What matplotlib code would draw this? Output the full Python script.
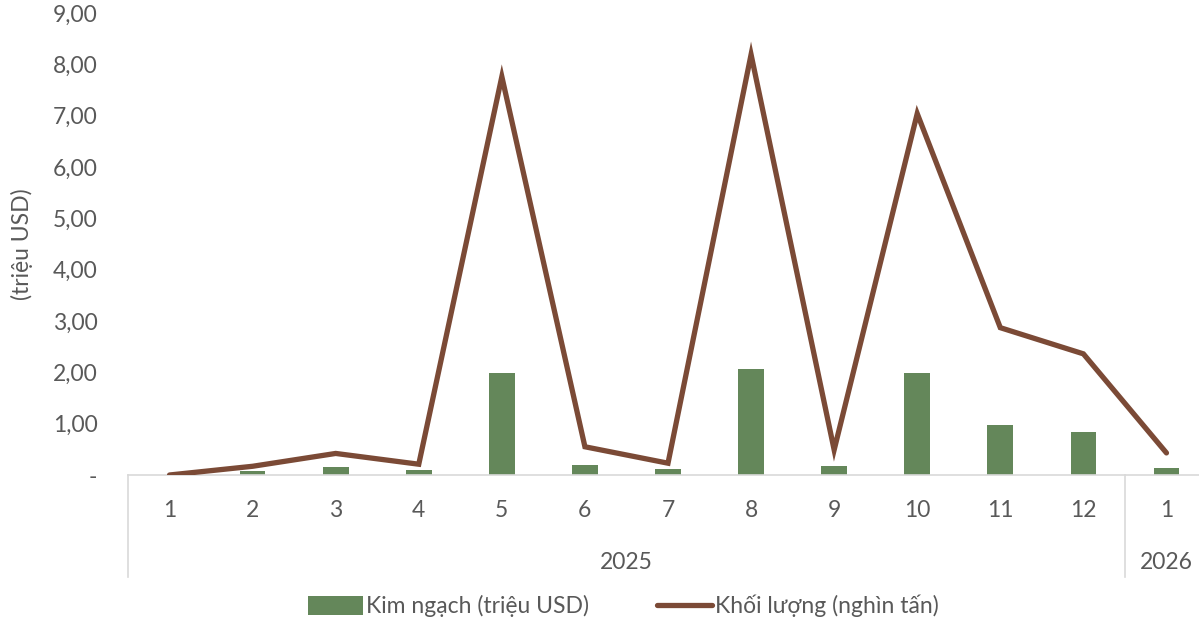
import matplotlib
matplotlib.use("Agg")
import matplotlib.pyplot as plt
import matplotlib.transforms as mtransforms
from matplotlib.ticker import FuncFormatter

plt.rcParams['font.family'] = ['Lato', 'DejaVu Sans']

months = ["1", "2", "3", "4", "5", "6", "7", "8", "9", "10", "11", "12", "1"]
years = ["2025", "2026"]
year_counts = [12, 1]
kim_ngach = [0.0, 0.07, 0.16, 0.09, 1.99, 0.19, 0.12, 2.07, 0.18, 1.99, 0.97, 0.83, 0.14]
khoi_luong = [0.0, 0.17, 0.42, 0.21, 7.76, 0.55, 0.23, 8.19, 0.49, 7.04, 2.87, 2.36, 0.43]

GREEN = "#64875a"
BROWN = "#7b4a36"
TXT = "#595959"
GRID = "#d9d9d9"
FS = 16.5

fig = plt.figure(figsize=(11.99, 6.21), dpi=100)
ax = fig.add_axes([128 / 1199, (621 - 475) / 621, 1080 / 1199, 462 / 621])

x = list(range(len(months)))
bars = ax.bar(x, kim_ngach, width=0.31, color=GREEN, label="Kim ngạch (triệu USD)", zorder=2)
line, = ax.plot(x, khoi_luong, color=BROWN, lw=3.8, solid_joinstyle="miter",
                solid_capstyle="round", label="Khối lượng (nghìn tấn)", zorder=3)

ax.set_xlim(-0.5, len(months) - 0.5)
ax.set_ylim(0, 9)
ax.set_yticks(range(10))
ax.yaxis.set_major_formatter(FuncFormatter(lambda v, p: "-" if v == 0 else f"{v:.2f}".replace(".", ",")))
ax.tick_params(axis="y", length=0, pad=22, labelsize=FS, labelcolor=TXT)
ax.set_xticks(x)
ax.set_xticklabels(months)
ax.tick_params(axis="x", length=0, pad=18, labelsize=FS, labelcolor=TXT)

for s in ["top", "right", "left"]:
    ax.spines[s].set_visible(False)
ax.spines["bottom"].set_color(GRID)
ax.spines["bottom"].set_linewidth(1.2)

ax.set_ylabel("(triệu USD)", fontsize=FS, color=TXT)
ax.yaxis.set_label_coords(-0.088, 0.5)

# grouped year labels under months
trans = mtransforms.blended_transform_factory(ax.transData, ax.transAxes)
sep_y = -0.22
start = -0.5
bounds = [start]
for yr, n in zip(years, year_counts):
    end = start + n
    ax.text((start + end) / 2, -0.19, yr, transform=trans, ha="center", va="center",
            fontsize=FS, color=TXT)
    start = end
    bounds.append(end)
for b in bounds[:-1]:
    ax.plot([b, b], [0, sep_y], transform=trans, color=GRID, lw=1.2, clip_on=False)

fig.legend([bars, line], [bars.get_label(), line.get_label()],
           loc="center", bbox_to_anchor=(0.52, (621 - 606) / 621), ncol=2,
           frameon=False, fontsize=FS, labelcolor=TXT, handlelength=2.4, handletextpad=0.1,
           columnspacing=3.0, handleheight=0.9)

fig.savefig("out.png", dpi=100)
